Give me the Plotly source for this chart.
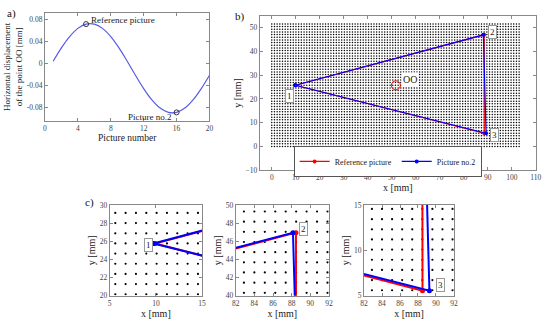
import numpy as np
import plotly.graph_objects as go

# ---------------- data ----------------
# panel a: horizontal displacement of point OO vs picture number
picture_number = list(range(1, 21))
displacement = [0.0036, 0.0278, 0.0483, 0.0632, 0.0710, 0.0710, 0.0632, 0.0483, 0.0278, 0.0036,
                -0.0216, -0.0458, -0.0663, -0.0812, -0.0890, -0.0890, -0.0812, -0.0663, -0.0458, -0.0216]
ref_pic_x = [5]
ref_pic_y = [0.0710]
pic2_x_a = [16]
pic2_y_a = [-0.0890]

# panel b/c: triangle vertices 1-2-3-1
ref_x = [9.9, 88.46, 88.5, 9.9]
ref_y = [25.75, 46.95, 5.55, 25.75]
pic2_x = [9.75, 88.14, 89.27, 9.75]
pic2_y = [25.75, 46.94, 5.55, 25.75]
oo_x = [51.7]
oo_y = [25.7]

# calibration grid of dots
grid_pitch = 1.12
grid_nx = 93
grid_ny = 47
gx, gy = np.meshgrid(np.arange(grid_nx) * grid_pitch, np.arange(grid_ny) * grid_pitch)
gx = gx.ravel()
gy = gy.ravel()

FONT = "Liberation Serif"
W, H = 550, 325

def px(x):
    return x / W

def py(y):
    return 1 - y / H

fig = go.Figure()

# ---- panel a ----
fig.add_trace(go.Scatter(x=picture_number, y=displacement, mode="lines",
                         line=dict(color="#5a5ae6", width=1.2, shape="spline"),
                         xaxis="x", yaxis="y", showlegend=False))
fig.add_trace(go.Scatter(x=ref_pic_x + pic2_x_a, y=ref_pic_y + pic2_y_a, mode="markers",
                         marker=dict(symbol="circle-open", size=5, color="#333", line=dict(width=1)),
                         xaxis="x", yaxis="y", showlegend=False))

# ---- panel b ----
fig.add_trace(go.Scatter(x=gx, y=gy, mode="markers", marker=dict(size=1.5, color="black"),
                         xaxis="x2", yaxis="y2", showlegend=False, hoverinfo="skip"))
fig.add_trace(go.Scatter(x=ref_x, y=ref_y, mode="lines+markers", name="Reference picture",
                         line=dict(color="red", width=1.2), marker=dict(size=4, color="red"),
                         xaxis="x2", yaxis="y2"))
fig.add_trace(go.Scatter(x=pic2_x, y=pic2_y, mode="lines+markers", name="Picture no.2",
                         line=dict(color="blue", width=1.2), marker=dict(size=4, color="blue"),
                         xaxis="x2", yaxis="y2"))
fig.add_trace(go.Scatter(x=oo_x, y=oo_y, mode="markers",
                         marker=dict(symbol="circle-open", size=9, color="red", line=dict(width=1)),
                         xaxis="x2", yaxis="y2", showlegend=False))

# ---- panel c ----
c_ranges = [([5, 15], [20, 30]), ([82, 92], [40, 50]), ([82, 92], [5, 15])]
for i, (xr, yr) in enumerate(c_ranges):
    xa = "x%d" % (i + 3)
    ya = "y%d" % (i + 3)
    m = (gx >= xr[0]) & (gx <= xr[1]) & (gy >= yr[0]) & (gy <= yr[1])
    fig.add_trace(go.Scatter(x=gx[m], y=gy[m], mode="markers", marker=dict(size=2.2, color="black"),
                             xaxis=xa, yaxis=ya, showlegend=False, hoverinfo="skip"))
    fig.add_trace(go.Scatter(x=ref_x, y=ref_y, mode="lines+markers",
                             line=dict(color="red", width=2), marker=dict(size=5, color="red"),
                             xaxis=xa, yaxis=ya, showlegend=False, cliponaxis=True))
    fig.add_trace(go.Scatter(x=pic2_x, y=pic2_y, mode="lines+markers",
                             line=dict(color="blue", width=2), marker=dict(size=5, color="blue"),
                             xaxis=xa, yaxis=ya, showlegend=False, cliponaxis=True))

tickfont = dict(family=FONT, size=7.5, color="#444")

def ax(domain, rng, dtick, title=None, anchor=None, tickvals=None, tsize=10):
    d = dict(domain=domain, range=rng, showline=True, mirror="ticks", linecolor="#888",
             linewidth=1, ticks="inside", ticklen=3, tickcolor="#888", showgrid=False,
             zeroline=False, tickfont=tickfont, anchor=anchor)
    if tickvals is not None:
        d["tickvals"] = tickvals
    else:
        d["dtick"] = dtick
        d["tick0"] = 0
    if title:
        d["title"] = dict(text=title, font=dict(family=FONT, size=tsize, color="#222"), standoff=2)
    return d

cy = [py(300), py(206.7)]
layout = dict(
    width=W, height=H, margin=dict(l=0, r=0, t=0, b=0),
    paper_bgcolor="white", plot_bgcolor="white", font=dict(family=FONT),
    xaxis=ax([px(41.7), px(209.3)], [0, 20], 4, "Picture number", "y", tsize=9.5),
    yaxis=ax([py(120), py(9.3)], [-0.104, 0.091], None, "Horizontal displacement<br>of the point OO [mm]", "x",
             tickvals=[-0.08, -0.04, 0, 0.04, 0.08], tsize=9),
    xaxis2=ax([px(260.5), px(541.7)], [-5, 110], 10, "x [mm]", "y2"),
    yaxis2=ax([py(171), py(12)], [-10, 55], 10, "y [mm]", "x2"),
    xaxis3=ax([px(107.7), px(201.7)], [5, 15], 5, "x [mm]", "y3"),
    yaxis3=ax(cy, [20, 30], 2, "y [mm]", "x3"),
    xaxis4=ax([px(236), px(331)], [82, 92], 2, "x [mm]", "y4"),
    yaxis4=ax(cy, [40, 50], 2, "y [mm]", "x4"),
    xaxis5=ax([px(366.7), px(458.3)], [82, 92], 2, "x [mm]", "y5"),
    yaxis5=ax(cy, [5, 15], 5, "y [mm]", "x5"),
    legend=dict(orientation="h", x=px(295), y=py(146), xanchor="left", yanchor="top",
                bgcolor="white", bordercolor="#555", borderwidth=1,
                font=dict(family=FONT, size=8, color="#222"),
                itemwidth=30, tracegroupgap=0),
)
fig.update_layout(**layout)
fig.update_yaxes(ticktext=["-0.08", "-0.04", "0", "0.04", "0.08"], selector=dict(anchor="x"))

ann = []
def box(text, x, y, xref, yref):
    ann.append(dict(text=text, x=x, y=y, xref=xref, yref=yref, showarrow=False,
                    font=dict(family=FONT, size=9, color="#222"), bgcolor="white",
                    bordercolor="#999", borderwidth=1, borderpad=1))

# panel labels
for t, x, y in [("a)", 1, 1), ("b)", 233, 4), ("c)", 80, 195)]:
    ann.append(dict(text=t, x=px(x), y=py(y), xref="paper", yref="paper", xanchor="left",
                    yanchor="top", showarrow=False, font=dict(family=FONT, size=11, color="#111")))

# panel a annotations
ann.append(dict(text="Reference picture", x=5.4, y=0.078, xref="x", yref="y", xanchor="left",
                showarrow=False, font=dict(family=FONT, size=9, color="#222")))
ann.append(dict(text="Picture no.2", x=15.7, y=-0.0975, xref="x", yref="y", xanchor="right",
                showarrow=False, font=dict(family=FONT, size=9, color="#222")))

# panel b annotations
box("1", 7.5, 21.3, "x2", "y2")
box("2", 92.1, 48.3, "x2", "y2")
box("3", 92.9, 4.9, "x2", "y2")
ann.append(dict(text="OO", x=57.4, y=28.3, xref="x2", yref="y2", showarrow=False,
                font=dict(family=FONT, size=10, color="#222"), bgcolor="white"))

# panel c annotations
box("1", 9.2, 25.6, "x3", "y3")
box("2", 89.3, 47.3, "x4", "y4")
box("3", 90.45, 6.2, "x5", "y5")

fig.update_layout(annotations=ann)
fig.write_html("out.html", config={"displayModeBar": False},
               post_script="document.body.style.margin='0';document.body.style.padding='0';")
